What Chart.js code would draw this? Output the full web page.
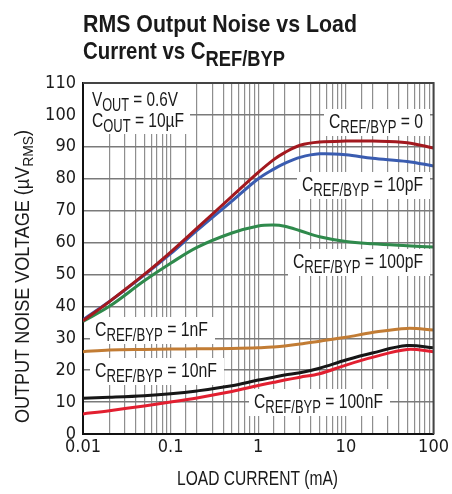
<!DOCTYPE html>
<html>
<head>
<meta charset="utf-8">
<script src="https://cdn.jsdelivr.net/npm/chart.js@4/dist/chart.umd.min.js"></script>
<style>
  html, body { margin: 0; padding: 0; background: #fff; }
  #wrap { width: 452px; height: 494px; }
</style>
</head>
<body>
<div id="wrap"><canvas id="c" width="452" height="494"></canvas></div>
<script>
// Load current (mA) sample points, shared by all curves
const loadCurrent = [0.01, 0.02, 0.05, 0.1, 0.2, 0.5, 1, 1.5, 2, 3, 5, 10, 20, 50, 100];

// RMS output noise (µV RMS) for each C_REF/BYP value
const noiseC0     = [35.5, 41.5, 50.0, 57.0, 64.5, 74.5, 82.0, 86.0, 88.2, 90.5, 91.5, 91.8, 91.8, 91.3, 89.6];
const noiseC10pF  = [35.8, 41.5, 49.8, 56.5, 63.8, 73.0, 80.0, 83.0, 84.8, 86.7, 87.8, 87.5, 86.4, 85.4, 84.0];
const noiseC100pF = [35.3, 40.0, 48.0, 53.5, 58.5, 63.0, 65.2, 65.5, 65.1, 63.7, 61.8, 60.3, 59.6, 59.0, 58.6];
const noiseC1nF   = [25.8, 26.3, 26.5, 26.6, 26.7, 26.8, 27.0, 27.3, 27.6, 28.2, 29.1, 30.3, 31.8, 33.1, 32.6];
const noiseC10nF  = [11.2, 11.5, 12.0, 12.6, 13.5, 15.1, 16.9, 17.8, 18.5, 19.2, 20.6, 23.2, 25.4, 27.7, 27.0];
const noiseC100nF = [ 6.3,  7.3,  8.8, 10.0, 11.3, 13.3, 15.2, 16.2, 16.9, 17.8, 18.9, 21.6, 24.0, 26.5, 25.8];

// Axis ranges and tick labels
const xMin = 0.01, xMax = 100;
const yMin = 0, yMax = 110, yStep = 10;
const xTickLabels = ['0.01', '0.1', '1', '10', '100'];

const TICK_FONT = '"DejaVu Sans Condensed", "Liberation Sans", sans-serif';
const TEXT_FONT = '"Liberation Sans", Arial, sans-serif';

const toPoints = ys => loadCurrent.map((x, i) => ({ x: x, y: ys[i] }));

const series = [
  { label: 'C_REF/BYP = 0',     data: noiseC0,     color: '#a3191f' },
  { label: 'C_REF/BYP = 10pF',  data: noiseC10pF,  color: '#3a5cb0' },
  { label: 'C_REF/BYP = 100pF', data: noiseC100pF, color: '#2f8a4c' },
  { label: 'C_REF/BYP = 1nF',   data: noiseC1nF,   color: '#c27c34' },
  { label: 'C_REF/BYP = 10nF',  data: noiseC10nF,  color: '#161616' },
  { label: 'C_REF/BYP = 100nF', data: noiseC100nF, color: '#e21f30' }
];

// Width of a run of text pieces (some are subscripts) before squeezing
function measureRich(ctx, parts, st) {
  let w = 0;
  parts.forEach(([txt, sub]) => {
    ctx.font = (st.weight || '') + ' ' + (sub ? st.sub : st.size) + 'px ' + TEXT_FONT;
    w += ctx.measureText(txt).width;
  });
  return w;
}
// Draws the run squeezed horizontally to the given width (condensed look)
function drawRich(ctx, parts, x, y, st, width) {
  const natural = measureRich(ctx, parts, st);
  const sx = width ? width / natural : 1;
  ctx.save();
  ctx.translate(x, y);
  ctx.scale(sx, 1);
  let cx = 0;
  parts.forEach(([txt, sub]) => {
    ctx.font = (st.weight || '') + ' ' + (sub ? st.sub : st.size) + 'px ' + TEXT_FONT;
    ctx.fillText(txt, cx, sub ? st.shift : 0);
    cx += ctx.measureText(txt).width;
  });
  ctx.restore();
}

const NOTE = { size: 21, sub: 17.5, shift: 4.5 };
const cRef = [['C', 0], ['REF/BYP', 1]];
const notes = [
  { x: 92,  y: 106, w: 86,  parts: [['V', 0], ['OUT', 1], [' = 0.6V', 0]] },
  { x: 92,  y: 127, w: 92,  parts: [['C', 0], ['OUT', 1], [' = 10µF', 0]] },
  { x: 329, y: 128, w: 94,  box: true, parts: cRef.concat([[' = 0', 0]]) },
  { x: 302, y: 191, w: 121, box: true, parts: cRef.concat([[' = 10pF', 0]]) },
  { x: 293, y: 268, w: 130, box: true, parts: cRef.concat([[' = 100pF', 0]]) },
  { x: 95,  y: 336, w: 113, box: true, parts: cRef.concat([[' = 1nF', 0]]) },
  { x: 95,  y: 377, w: 122, box: true, parts: cRef.concat([[' = 10nF', 0]]) },
  { x: 254, y: 408, w: 129, box: true, parts: cRef.concat([[' = 100nF', 0]]) }
];

const decorations = {
  id: 'decorations',
  beforeDatasetsDraw(chart) {
    const ctx = chart.ctx;
    ctx.save();
    ctx.fillStyle = '#fff';
    // panel behind the operating conditions
    ctx.fillRect(84, 84, 106, 50);
    notes.filter(n => n.box).forEach(n => {
      ctx.fillRect(n.x - 5, n.y - 19, n.w + 12, 27);
    });
    ctx.fillStyle = '#1a1a1a';
    ctx.textBaseline = 'alphabetic';
    ctx.textAlign = 'left';
    notes.forEach(n => drawRich(ctx, n.parts, n.x, n.y, NOTE, n.w));
    ctx.restore();
  },
  afterDraw(chart) {
    const ctx = chart.ctx;
    const a = chart.chartArea;
    ctx.save();
    // top and right frame edges
    ctx.strokeStyle = '#444';
    ctx.lineWidth = 2;
    ctx.beginPath();
    ctx.moveTo(a.left, a.top);
    ctx.lineTo(a.right, a.top);
    ctx.lineTo(a.right, a.bottom);
    ctx.stroke();

    ctx.fillStyle = '#1a1a1a';
    ctx.textAlign = 'left';
    ctx.textBaseline = 'alphabetic';
    // title
    const T = { size: 24.5, sub: 22, shift: 6.5, weight: 'bold' };
    drawRich(ctx, [['RMS Output Noise vs Load', 0]], 83, 32, T, 274);
    drawRich(ctx, [['Current vs C', 0], ['REF/BYP', 1]], 83, 59, T, 202);

    // x axis title
    const X = { size: 19.5, sub: 15, shift: 4 };
    drawRich(ctx, [['LOAD CURRENT (mA)', 0]], 177, 485, X, 161);

    // y axis title (rotated, with subscript)
    const yParts = [['OUTPUT NOISE VOLTAGE (µV', 0], ['RMS', 1], [')', 0]];
    ctx.translate(29, 423);
    ctx.rotate(-Math.PI / 2);
    drawRich(ctx, yParts, 0, 0, X, 293);
    ctx.restore();
  }
};

const isDecade = v => Math.abs(Math.log10(v) - Math.round(Math.log10(v))) < 1e-6;

new Chart(document.getElementById('c'), {
  type: 'line',
  data: {
    datasets: series.map(s => ({
      label: s.label,
      data: toPoints(s.data),
      borderColor: s.color,
      borderWidth: 3,
      pointRadius: 0,
      fill: false,
      tension: 0.35
    }))
  },
  options: {
    responsive: false,
    animation: false,
    devicePixelRatio: 1,
    layout: { padding: { top: 83, right: 18, left: 0, bottom: 0 } },
    plugins: { legend: { display: false }, title: { display: false }, tooltip: { enabled: false } },
    scales: {
      x: {
        type: 'logarithmic',
        min: xMin,
        max: xMax,
        afterFit(scale) { scale.height = 60; },
        grid: { color: '#8e8e8e', lineWidth: 1.2, drawTicks: false },
        border: { display: true, color: '#111', width: 2 },
        ticks: {
          autoSkip: false,
          maxRotation: 0,
          padding: 3,
          color: '#1a1a1a',
          font: { family: TICK_FONT, size: 18 },
          callback(value) {
            if (!isDecade(value)) return '';
            const idx = Math.round(Math.log10(value) - Math.log10(xMin));
            return xTickLabels[idx];
          }
        }
      },
      y: {
        type: 'linear',
        min: yMin,
        max: yMax,
        afterFit(scale) { scale.width = 83; },
        grid: { color: '#7a7a7a', lineWidth: 1.5, drawTicks: false },
        border: { display: true, color: '#111', width: 2 },
        ticks: {
          stepSize: yStep,
          padding: 7,
          color: '#1a1a1a',
          font: { family: TICK_FONT, size: 18 }
        }
      }
    }
  },
  plugins: [decorations]
});
</script>
</body>
</html>
